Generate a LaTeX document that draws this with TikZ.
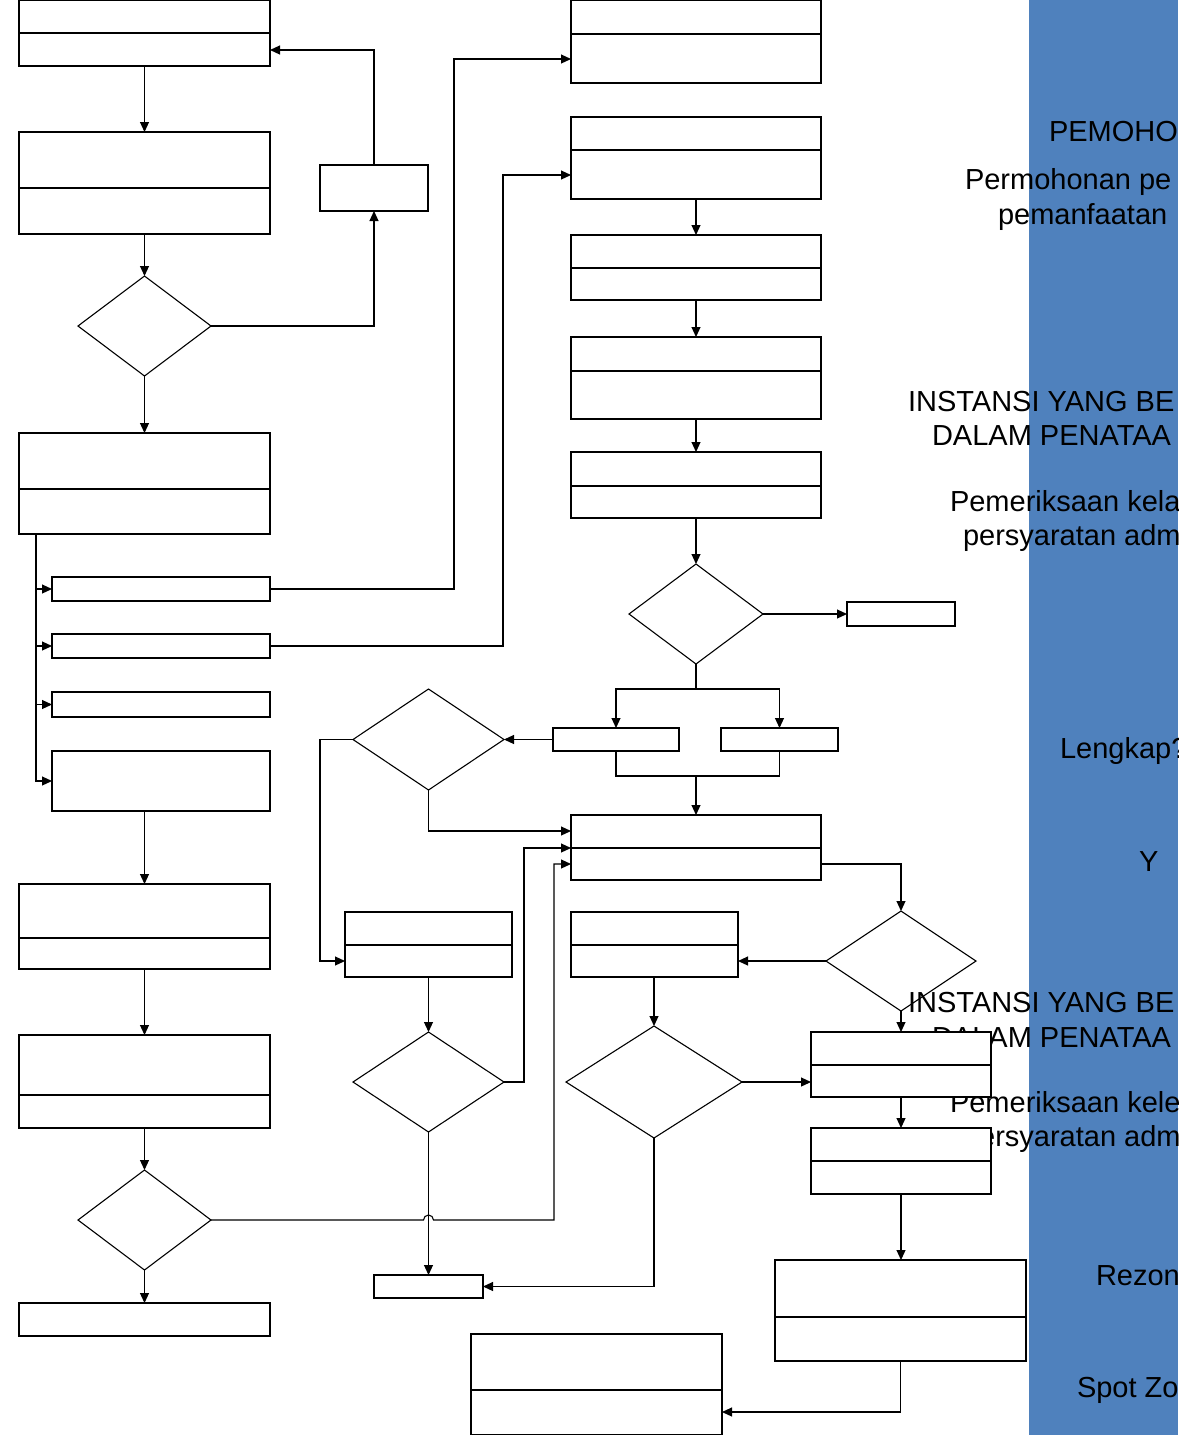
\documentclass[tikz,border=0pt]{standalone}
\usepackage{fontspec}
\setmainfont{Liberation Sans}
\usetikzlibrary{arrows.meta,shapes.geometric}
\definecolor{panelblue}{RGB}{79,129,189}
\newcommand\BX[5]{\node[box, minimum width={(#4-#2)*0.5pt}, minimum height={(#5-#3)*0.5pt}] (#1) at ({(#2+#4)/2},{(#3+#5)/2}) {};}
\newcommand\DM[5]{\node[dia, minimum width={(#4-#2)*0.5pt}, minimum height={(#5-#3)*0.5pt}] (#1) at ({(#2+#4)/2},{(#3+#5)/2}) {};}
\newcommand\DV[2]{\draw[ln] (#1.west |- 0,#2) -- (#1.east |- 0,#2);}
\begin{document}
\begin{tikzpicture}[x=0.5pt,y=-0.5pt,
 ln/.style={line width=0.55pt, draw=black},
 box/.style={draw=black, line width=0.55pt, fill=white, inner sep=0pt, outer sep=0pt, shape=rectangle},
 dia/.style={draw=black, line width=0.55pt, shape=diamond, inner sep=0pt, outer sep=0pt},
 arr/.style={ln, -{Triangle[length=5pt,width=4.5pt]}},
 lbl/.style={anchor=base west, inner sep=0pt, outer sep=0pt, font=\fontsize{14.5}{17}\selectfont}]
\useasboundingbox (0,0) rectangle (1178,1435);
\clip (0,0) rectangle (1178,1435);
\fill[panelblue] (1029,0) rectangle (1178,1435);
% panel texts
\node[lbl] (t1) at (1049,141) {PEMOHO};
\node[lbl] (t2) at (965,189) {Permohonan pe};
\node[lbl] (t3) at (998,224) {pemanfaatan};
\node[lbl] (t4) at (908,411) {INSTANSI YANG BE};
\node[lbl] (t5) at (932,445) {DALAM PENATAA};
\node[lbl] (t6) at (950,511) {Pemeriksaan kela};
\node[lbl] (t7) at (963,545) {persyaratan adm};
\node[lbl] (t8) at (1060,758) {Lengkap?};
\node[lbl] (t9) at (1139,871) {Y};
\node[lbl] (t10) at (908,1012) {INSTANSI YANG BE};
\node[lbl] (t11) at (932,1047) {DALAM PENATAA};
\node[lbl] (t12) at (950,1112) {Pemeriksaan kele};
\node[lbl] (t13) at (963,1146) {persyaratan adm};
\node[lbl] (t14) at (1096,1285) {Rezon};
\node[lbl] (t15) at (1077,1397) {Spot Zo};
% left column
\BX{B1}{19}{0.5}{270}{66} \DV{B1}{33}
\BX{B2}{19}{132}{270}{234} \DV{B2}{188}
\BX{S1}{320}{165}{428}{211}
\DM{D1}{78}{276}{211}{376}
\BX{B3}{19}{433}{270}{534} \DV{B3}{489}
\BX{B4}{52}{577}{270}{601}
\BX{B5}{52}{634}{270}{658}
\BX{B6}{52}{692}{270}{717}
\BX{B7}{52}{751}{270}{811}
\BX{B8}{19}{884}{270}{969} \DV{B8}{938}
\BX{B9}{19}{1035}{270}{1128} \DV{B9}{1095}
\DM{D2}{78}{1170}{211}{1270}
\BX{B10}{19}{1303}{270}{1336}
% right part
\BX{R1}{571}{0.5}{821}{83} \DV{R1}{34}
\BX{R2}{571}{117}{821}{199} \DV{R2}{150}
\BX{R3}{571}{235}{821}{300} \DV{R3}{268}
\BX{R4}{571}{337}{821}{419} \DV{R4}{371}
\BX{R5}{571}{452}{821}{518} \DV{R5}{486}
\DM{D3}{629}{564}{763}{664}
\BX{S2}{847}{602}{955}{626}
\BX{S3}{553}{728}{679}{751}
\BX{S4}{721}{728}{838}{751}
\DM{D4}{353}{689}{504}{790}
\BX{M}{571}{815}{821}{880} \DV{M}{848}
\BX{B11}{345}{912}{512}{977} \DV{B11}{945}
\BX{B12}{571}{912}{738}{977} \DV{B12}{945}
\DM{D6}{826}{911}{976}{1011}
\DM{D5}{353}{1032}{504}{1132}
\DM{D7}{566}{1026}{742}{1138}
\BX{B13}{811}{1032}{991}{1097} \DV{B13}{1065}
\BX{B14}{811}{1128}{991}{1194} \DV{B14}{1161}
\BX{S5}{374}{1275}{483}{1298}
\BX{B15}{775}{1260}{1026}{1361} \DV{B15}{1317}
\BX{B16}{471}{1334}{722}{1434.5} \DV{B16}{1390}
\coordinate (J) at (696,776);
% connectors left
\draw[arr] (B1.south) -- (B2.north);
\draw[arr] (B2.south) -- (D1.north);
\draw[arr] (D1.east) -| (S1.south);
\draw[arr] (S1.north) |- (B1.east |- 0,50);
\draw[arr] (D1.south) -- (B3.north);
\draw[arr] (B3.south -| 36,0) |- (B4.west);
\draw[arr] (B3.south -| 36,0) |- (B5.west);
\draw[arr] (B3.south -| 36,0) |- (B6.west);
\draw[arr] (B3.south -| 36,0) |- (B7.west);
\draw[arr] (B4.east) -| (454,59) -- (R1.west |- 0,59);
\draw[arr] (B5.east) -| (503,175) -- (R2.west |- 0,175);
\draw[arr] (B7.south -| B8.north) -- (B8.north);
\draw[arr] (B8.south) -- (B9.north);
\draw[arr] (B9.south) -- (D2.north);
\draw[arr] (D2.south) -- (B10.north);
\draw[arr] (D2.east) -- (423.5,1220) arc[start angle=180,end angle=360,radius=5] -- (554,1220) -- (554,864) -- (M.west |- 0,864);
% connectors right
\draw[arr] (R2.south) -- (R3.north);
\draw[arr] (R3.south) -- (R4.north);
\draw[arr] (R4.south) -- (R5.north);
\draw[arr] (R5.south) -- (D3.north);
\draw[arr] (D3.east) -- (S2.west);
\draw[arr] (D3.south) -- ++(0,25) -| (S3.north);
\draw[arr] (D3.south) -- ++(0,25) -| (S4.north);
\draw[ln] (S3.south) -- ++(0,25) -| (S4.south);
\draw[arr] (J) -- (M.north);
\draw[arr] (S3.west) -- (D4.east);
\draw[arr] (D4.south) |- (M.west |- 0,831);
\draw[arr] (D4.west) -| (320,961) -- (B11.west |- 0,961);
\draw[arr] (M.east |- 0,864) -| (D6.north);
\draw[arr] (D6.west) -- (B12.east |- D6.west);
\draw[arr] (D6.south) -- (B13.north);
\draw[arr] (B11.south) -- (D5.north);
\draw[arr] (D5.east) -| (524,848) -- (M.west |- 0,848);
\draw[arr] (D5.south) -- (S5.north);
\draw[arr] (B12.south -| D7.north) -- (D7.north);
\draw[arr] (D7.east) -- (B13.west |- D7.east);
\draw[arr] (D7.south) |- (S5.east);
\draw[arr] (B13.south) -- (B14.north);
\draw[arr] (B14.south) -- (B14.south |- B15.north);
\draw[arr] (B15.south) |- (B16.east |- 0,1412);
\end{tikzpicture}
\end{document}
